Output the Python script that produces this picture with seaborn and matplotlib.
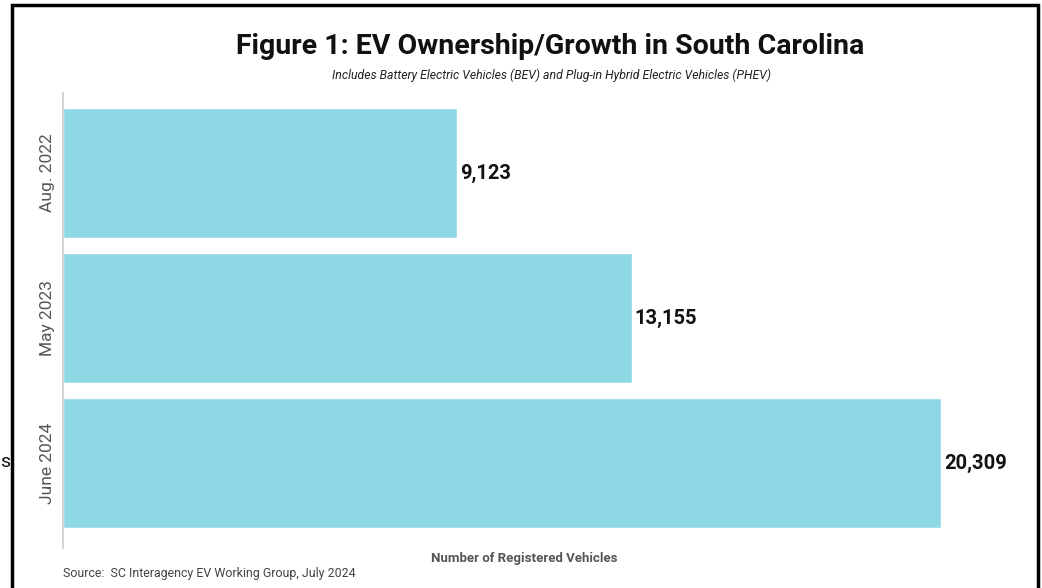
import pandas as pd
import matplotlib.pyplot as plt
import seaborn as sns
from matplotlib.patches import Rectangle

# data
periods = ['Aug. 2022', 'May 2023', 'June 2024']
vehicles = [9123, 13155, 20309]

df = pd.DataFrame({'period': periods, 'vehicles': vehicles})

sns.set_style('white')
plt.rcParams['font.family'] = ['Roboto', 'DejaVu Sans']

fig = plt.figure(figsize=(10.42, 5.88), dpi=100)
ax = fig.add_axes([63/1042, 40/588, 922/1042, 455/588])

sns.barplot(x='vehicles', y='period', data=df, orient='h', color='#8ED8E6',
            width=0.897, saturation=1, ax=ax)

ax.set_xlim(0, 21330)
ax.set_ylim(2.586, -0.552)

# value labels
for i, v in enumerate(vehicles):
    ax.text(v + 70, i, f'{v:,}', va='center', ha='left', fontsize=14.5,
            fontweight='bold', color='#111111')

ax.set_xticks([])
ax.tick_params(axis='y', length=0, pad=6)
for lbl in ax.get_yticklabels():
    lbl.set_rotation(90)
    lbl.set_va('center')
    lbl.set_fontsize(12.5)
    lbl.set_color('#555555')
ax.set_ylabel('')
ax.set_xlabel('Number of Registered Vehicles', fontsize=9.5, fontweight='bold',
              color='#555555', labelpad=3)

for s in ['top', 'right', 'bottom']:
    ax.spines[s].set_visible(False)
ax.spines['left'].set_color('#cccccc')
ax.spines['left'].set_linewidth(1.2)

fig.text(550/1042, 1 - 47/588, 'Figure 1: EV Ownership/Growth in South Carolina',
         ha='center', va='center', fontsize=20.5, fontweight='bold', color='#111111')
fig.text(551/1042, 1 - 75/588,
         'Includes Battery Electric Vehicles (BEV) and Plug-in Hybrid Electric Vehicles (PHEV)',
         ha='center', va='center', fontsize=8.8, fontstyle='italic', color='#222222')
fig.text(63/1042, 1 - 574/588, 'Source:  SC Interagency EV Working Group, July 2024',
         ha='left', va='center', fontsize=8.9, color='#444444')
fig.text(0, 1 - 462/588, 's', ha='left', va='center', fontsize=14, color='#111111')

# black frame around the graphic
fig.patches.append(Rectangle((12/1042, -0.05), 1026/1042, 1.05 - 5/588,
                             transform=fig.transFigure, fill=False,
                             edgecolor='black', linewidth=2.5))

fig.savefig('out.png', dpi=100, facecolor='white')
